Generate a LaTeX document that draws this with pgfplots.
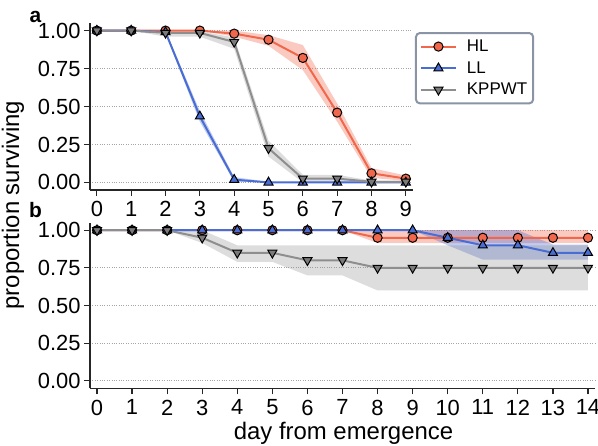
\documentclass[border=0pt]{standalone}
\usepackage{fontspec}
\setmainfont{Liberation Sans}
\usepackage{pgfplots}
\pgfplotsset{compat=1.18}
\definecolor{hl}{HTML}{F0674B}
\definecolor{ll}{HTML}{4A6DD3}
\definecolor{kp}{HTML}{8E8E8E}
\definecolor{kpm}{HTML}{7A7A7A}
\definecolor{lgd}{HTML}{8A94A6}
\pgfplotsset{
  panel/.style={
    scale only axis,
    axis x line*=bottom, axis y line*=left,
    axis line style={line width=1.5bp, black!85},
    tick align=outside, major tick length=6bp,
    tick style={line width=1.2bp, black!85},
    ymin=-0.05, ymax=1.05, ytick={0,0.25,0.5,0.75,1},
    yticklabels={0.00,0.25,0.50,0.75,1.00},
    ymajorgrids, grid style={dotted, gray!70, line width=0.9bp},
    tick label style={font=\fontsize{22}{24}\selectfont},
    xticklabel style={yshift=-2bp},
    /pgf/number format/assume math mode=true,
    xmin=-0.2,
  },
  hlline/.style={hl, line width=2bp, mark=*, mark size=4.6bp, mark options={draw=black, fill=hl, line width=1bp}},
  llline/.style={ll, line width=2bp, mark=triangle*, mark size=5.2bp, mark options={draw=black, fill=ll, line width=1bp}},
  kpline/.style={kp, line width=2bp, mark=triangle*, mark size=5.2bp, mark options={draw=black, fill=kpm, line width=1bp, rotate=180}},
  hlband/.style={draw=none, fill=hl, fill opacity=0.35, forget plot},
  llband/.style={draw=none, fill=ll, fill opacity=0.35, forget plot},
  kpband/.style={draw=none, fill=kp, fill opacity=0.3, forget plot},
}
\begin{document}
\begin{tikzpicture}
\useasboundingbox (0,0) rectangle (598bp,-446bp);
% ---------------- panel a
\begin{axis}[panel, at={(90bp,-190bp)}, anchor=south west,
  width=322.7bp, height=167bp, xmax=9.2, xtick={0,...,9},
  legend style={at={(1.007,0.946)}, anchor=north west, draw=lgd, line width=2bp,
    rounded corners=4bp, font=\fontsize{17}{19}\selectfont, row sep=4.5bp,
    inner xsep=4bp, inner ysep=5bp,
    cells={anchor=west}},
  legend image code/.code={\draw[mark repeat=2,mark phase=2] plot coordinates {(0bp,0bp)(17.5bp,0bp)(35bp,0bp)};\path (43bp,0bp);},
]
\addplot[hlband] coordinates {(0,1)(1,1)(2,1)(3,1)(4,1.0)(5,0.97)(6,0.905)(7,0.52)(8,0.095)(9,0.045)
  (9,0.01)(8,0.03)(7,0.40)(6,0.74)(5,0.90)(4,0.96)(3,1)(2,1)(1,1)(0,1)};
\addplot[llband] coordinates {(0,1)(1,1)(2,1.0)(3,0.47)(4,0.035)(5,0.004)(6,0.004)(7,0.004)(8,0.004)(9,0.004)
  (9,0)(8,0)(7,0)(6,0)(5,0)(4,0.005)(3,0.40)(2,0.98)(1,1)(0,1)};
\addplot[kpband] coordinates {(0,1)(1,1)(2,0.995)(3,0.995)(4,0.955)(5,0.275)(6,0.05)(7,0.05)(8,0.012)(9,0.012)
  (9,0)(8,0)(7,0.0)(6,0.0)(5,0.17)(4,0.88)(3,0.96)(2,0.96)(1,1)(0,1)};
\addplot[hlline] coordinates {(0,1)(1,1)(2,1)(3,1)(4,0.98)(5,0.94)(6,0.82)(7,0.46)(8,0.06)(9,0.025)};
\addlegendentry{HL}
\addplot[llline] coordinates {(0,1)(1,1)(2,0.99)(3,0.435)(4,0.018)(5,0)(6,0)(7,0)(8,0)(9,0)};
\addlegendentry{LL}
\addplot[kpline] coordinates {(0,1)(1,1)(2,0.985)(3,0.985)(4,0.925)(5,0.225)(6,0.025)(7,0.025)(8,0.004)(9,0.004)};
\addlegendentry{KPPWT}
\end{axis}
% ---------------- panel b
\begin{axis}[panel, at={(90bp,-388.3bp)}, anchor=south west,
  width=505bp, height=165.6bp, xmax=14.2, xtick={0,...,14}]
\addplot[hlband] coordinates {(0,1)(7,1)(8,1)(14,1)(14,0.915)(8,0.915)(7,1)(0,1)};
\addplot[llband] coordinates {(0,1)(9,1)(10,1)(11,1)(12,1)(13,0.905)(14,0.905)
  (14,0.805)(13,0.805)(12,0.805)(11,0.805)(10,0.90)(9,1)(0,1)};
\addplot[kpband] coordinates {(0,1)(1,1)(2,1)(3,1)(4,0.90)(5,0.90)(6,0.90)(7,0.90)(8,0.90)(14,0.90)
  (14,0.60)(8,0.60)(7,0.70)(6,0.70)(5,0.79)(4,0.79)(3,0.915)(2,1)(1,1)(0,1)};
\addplot[hlline] coordinates {(0,1)(1,1)(2,1)(3,1)(4,1)(5,1)(6,1)(7,1)(8,0.95)(9,0.95)(10,0.95)(11,0.95)(12,0.95)(13,0.95)(14,0.95)};
\addplot[llline] coordinates {(0,1)(1,1)(2,1)(3,1)(4,1)(5,1)(6,1)(7,1)(8,1)(9,1)(10,0.95)(11,0.90)(12,0.90)(13,0.85)(14,0.85)};
\addplot[kpline] coordinates {(0,1)(1,1)(2,1)(3,0.95)(4,0.85)(5,0.85)(6,0.80)(7,0.80)(8,0.75)(9,0.75)(10,0.75)(11,0.75)(12,0.75)(13,0.75)(14,0.75)};
\end{axis}
% ---------------- labels
\node[anchor=base, rotate=90, font=\fontsize{24}{28}\selectfont] at (19bp,-205bp) {proportion surviving};
\node[anchor=base, font=\fontsize{24}{28}\selectfont] at (343.5bp,-439.3bp) {day from emergence};
\node[anchor=base, font=\fontsize{21}{24}\selectfont\bfseries] at (35.5bp,-22bp) {a};
\node[anchor=base, font=\fontsize{21}{24}\selectfont\bfseries] at (35.5bp,-217bp) {b};
\end{tikzpicture}
\end{document}
